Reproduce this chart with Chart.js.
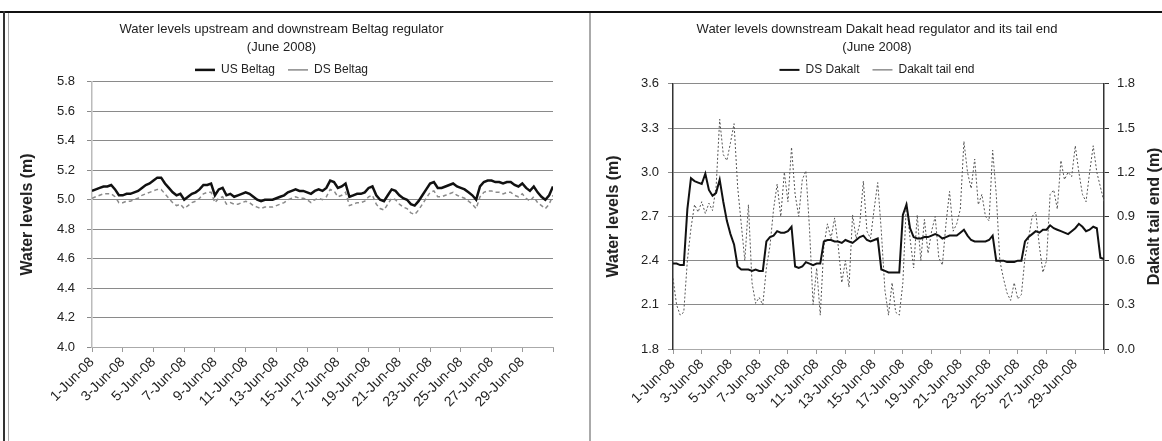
<!DOCTYPE html>
<html>
<head>
<meta charset="utf-8">
<title>Water levels June 2008</title>
<script src="https://cdn.jsdelivr.net/npm/chart.js@4.4.1/dist/chart.umd.min.js"></script>
<style>
  html, body { margin: 0; padding: 0; background: #fff; }
  body { width: 1162px; height: 441px; position: relative; overflow: hidden; }
  canvas { position: absolute; }
  #beltagChart { left: 10px; top: 8px; }
  #dakaltChart { left: 592px; top: 8px; }
  .rule { position: absolute; }
</style>
</head>
<body>
<div class="rule" style="left:0;top:11px;width:1162px;height:2px;background:#111"></div>
<div class="rule" style="left:3px;top:11px;width:2px;height:430px;background:#333"></div>
<div class="rule" style="left:8px;top:13px;width:1px;height:428px;background:#aaa"></div>
<div class="rule" style="left:589px;top:13px;width:2px;height:428px;background:#aaa"></div>
<canvas id="beltagChart" width="578" height="433"></canvas>
<canvas id="dakaltChart" width="570" height="433"></canvas>
<script>
Chart.defaults.font.family = '"Liberation Sans", Arial, sans-serif';
Chart.defaults.color = '#222';

// readings every 6 hours, 1 Jun 00:00 .. 30 Jun 24:00
const stepDays = 0.25;
const dayLabels = ['1-Jun-08', '3-Jun-08', '5-Jun-08', '7-Jun-08', '9-Jun-08', '11-Jun-08', '13-Jun-08',
  '15-Jun-08', '17-Jun-08', '19-Jun-08', '21-Jun-08', '23-Jun-08', '25-Jun-08', '27-Jun-08', '29-Jun-08'];

const usBeltag = [
  5.06, 5.07, 5.08, 5.09, 5.09, 5.10, 5.07, 5.03, 5.03, 5.04, 5.04, 5.05,
  5.06, 5.08, 5.10, 5.11, 5.13, 5.15, 5.15, 5.11, 5.08, 5.05, 5.03, 5.04,
  5.00, 5.02, 5.04, 5.05, 5.07, 5.10, 5.10, 5.11, 5.03, 5.07, 5.08, 5.03,
  5.04, 5.02, 5.03, 5.04, 5.05, 5.04, 5.02, 5.00, 4.99, 5.00, 5.00, 5.00,
  5.01, 5.02, 5.03, 5.05, 5.06, 5.07, 5.06, 5.06, 5.05, 5.04, 5.06, 5.07,
  5.06, 5.08, 5.13, 5.12, 5.08, 5.09, 5.11, 5.02, 5.03, 5.04, 5.04, 5.05,
  5.08, 5.09, 5.03, 5.00, 4.99, 5.03, 5.07, 5.06, 5.03, 5.01, 5.00, 4.97,
  4.96, 4.99, 5.03, 5.07, 5.11, 5.12, 5.08, 5.08, 5.09, 5.10, 5.11, 5.09,
  5.08, 5.07, 5.05, 5.03, 5.00, 5.09, 5.12, 5.13, 5.13, 5.12, 5.12, 5.11,
  5.12, 5.12, 5.10, 5.09, 5.11, 5.08, 5.06, 5.09, 5.05, 5.02, 5.00, 5.03,
  5.09
];
const dsBeltag = [
  5.01, 5.02, 5.03, 5.04, 5.04, 5.04, 5.02, 4.98, 4.98, 4.99, 4.99, 5.00,
  5.01, 5.03, 5.04, 5.05, 5.06, 5.07, 5.07, 5.04, 5.01, 4.98, 4.96, 4.97,
  4.94, 4.96, 4.98, 4.99, 5.01, 5.04, 5.05, 5.05, 4.98, 5.01, 5.02, 4.97,
  4.98, 4.97, 4.97, 4.98, 4.99, 4.98, 4.96, 4.95, 4.94, 4.95, 4.95, 4.95,
  4.96, 4.97, 4.98, 5.00, 5.01, 5.02, 5.01, 5.01, 5.00, 4.98, 5.00, 5.01,
  5.00, 5.02, 5.07, 5.06, 5.02, 5.03, 5.05, 4.96, 4.97, 4.98, 4.98, 4.99,
  5.02, 5.03, 4.97, 4.94, 4.93, 4.97, 5.01, 5.00, 4.97, 4.95, 4.94, 4.91,
  4.90, 4.93, 4.97, 5.01, 5.05, 5.06, 5.02, 5.02, 5.03, 5.04, 5.05, 5.03,
  5.02, 5.01, 4.99, 4.97, 4.94, 5.02, 5.05, 5.06, 5.06, 5.05, 5.05, 5.04,
  5.05, 5.05, 5.03, 5.02, 5.04, 5.01, 4.99, 5.02, 4.98, 4.96, 4.94, 4.97,
  5.03
];
const dsDakalt = [
  2.38, 2.38, 2.37, 2.37, 2.75, 2.96, 2.94, 2.93, 2.92, 2.99, 2.88, 2.84,
  2.86, 2.95, 2.80, 2.67, 2.58, 2.51, 2.36, 2.34, 2.34, 2.34, 2.33, 2.34,
  2.33, 2.33, 2.53, 2.56, 2.57, 2.60, 2.59, 2.59, 2.60, 2.63, 2.36, 2.35,
  2.36, 2.39, 2.38, 2.37, 2.38, 2.38, 2.53, 2.54, 2.54, 2.53, 2.53, 2.52,
  2.54, 2.53, 2.52, 2.54, 2.56, 2.57, 2.54, 2.53, 2.54, 2.55, 2.34, 2.33,
  2.32, 2.32, 2.32, 2.32, 2.71, 2.78, 2.62, 2.56, 2.55, 2.55, 2.56, 2.56,
  2.57, 2.58, 2.57, 2.55, 2.56, 2.57, 2.57, 2.57, 2.59, 2.61, 2.57, 2.54,
  2.53, 2.53, 2.53, 2.53, 2.54, 2.57, 2.40, 2.40, 2.40, 2.39, 2.39, 2.39,
  2.40, 2.40, 2.53, 2.56, 2.58, 2.60, 2.59, 2.61, 2.61, 2.64, 2.62, 2.61,
  2.60, 2.59, 2.58, 2.60, 2.62, 2.65, 2.63, 2.60, 2.61, 2.63, 2.62, 2.42,
  2.41
];
const dakaltTail = [
  0.48, 0.30, 0.23, 0.25, 0.60, 0.82, 0.98, 0.93, 1.00, 0.92, 0.99, 0.94,
  1.10, 1.56, 1.32, 1.28, 1.40, 1.53, 1.10, 0.85, 0.60, 0.98, 0.45, 0.31,
  0.35, 0.30, 0.55, 0.70, 0.95, 1.12, 0.90, 1.20, 1.00, 1.37, 1.05, 0.90,
  1.15, 1.21, 0.82, 0.30, 0.55, 0.23, 0.70, 0.85, 0.75, 0.89, 0.70, 0.45,
  0.60, 0.42, 0.91, 0.75, 0.85, 1.14, 0.80, 0.75, 0.95, 1.13, 0.80, 0.40,
  0.23, 0.45, 0.25, 0.23, 0.45, 1.00, 0.75, 0.55, 0.91, 0.60, 0.88, 0.65,
  0.80, 0.90, 0.62, 0.57, 0.85, 1.07, 0.80, 0.85, 0.95, 1.41, 1.20, 1.09,
  1.29, 0.98, 1.05, 0.90, 0.87, 1.35, 1.05, 0.60, 0.48, 0.38, 0.33, 0.45,
  0.34, 0.37, 0.62, 0.75, 0.90, 0.93, 0.70, 0.52, 0.60, 1.05, 1.08, 0.95,
  1.28, 1.15, 1.20, 1.17, 1.38, 1.20, 1.05, 1.00, 1.20, 1.38, 1.20, 1.10,
  1.00
];

function toPoints(values) {
  return values.map((v, i) => ({ x: i * stepDays, y: v }));
}

// adjust the room between legend and plot, like the Excel original
const legendGap = {
  id: 'legendGap',
  beforeInit(chart, args, opts) {
    const fit = chart.legend.fit;
    chart.legend.fit = function () {
      fit.call(this);
      this.height += opts.extra || 0;
    };
  }
};

// secondary axis title reads bottom-to-top in the original
const rightTitle = {
  id: 'rightTitle',
  afterDraw(chart, args, opts) {
    const s = chart.scales.y1;
    const ctx = chart.ctx;
    ctx.save();
    ctx.translate(opts.x, (s.top + s.bottom) / 2);
    ctx.rotate(-Math.PI / 2);
    ctx.font = 'bold 16px "Liberation Sans", Arial, sans-serif';
    ctx.fillStyle = '#222';
    ctx.textAlign = 'center';
    ctx.textBaseline = 'middle';
    ctx.fillText(opts.text, 0, 0);
    ctx.restore();
  }
};

function dayAxis(height) {
  return {
    type: 'linear',
    min: 0,
    max: 30,
    grid: { drawOnChartArea: false, tickLength: 5, color: '#999' },
    border: { color: '#aaa' },
    ticks: {
      stepSize: 2,
      autoSkip: false,
      maxRotation: 45,
      minRotation: 45,
      padding: 2,
      font: { size: 14 },
      callback: (v, i) => dayLabels[i] || ''
    },
    afterFit: s => { s.height = height; }
  };
}

function titleOpts(text) {
  return {
    display: true,
    text: text,
    color: '#222',
    font: { size: 13, weight: 'normal', lineHeight: 1.45 },
    padding: { top: 11.5, bottom: -6.3 }
  };
}

function legendOpts() {
  return {
    labels: {
      usePointStyle: true,
      pointStyle: 'line',
      pointStyleWidth: 20,
      padding: 13,
      color: '#222',
      font: { size: 12 }
    }
  };
}

function levelAxis(min, max, step, width, titlePad, labelPad, borderColor) {
  return {
    position: 'left',
    min: min,
    max: max,
    ticks: { stepSize: step, padding: labelPad, font: { size: 13 }, callback: v => v.toFixed(1) },
    grid: { color: '#8a8a8a', tickLength: 5 },
    border: { color: borderColor, width: 1.5 },
    title: { display: true, text: 'Water levels (m)', font: { size: 16, weight: 'bold' }, padding: { top: titlePad, bottom: 0 } },
    afterFit: s => { s.width = width; }
  };
}

new Chart(document.getElementById('beltagChart'), {
  type: 'line',
  data: {
    datasets: [
      { label: 'US Beltag', data: toPoints(usBeltag), borderColor: '#111', borderWidth: 2.5 },
      { label: 'DS Beltag', data: toPoints(dsBeltag), borderColor: '#8a8a8a', borderWidth: 1.5, borderDash: [4, 3] }
    ]
  },
  options: {
    responsive: false,
    animation: false,
    elements: { point: { radius: 0 }, line: { tension: 0 } },
    layout: { padding: { right: 35 } },
    plugins: {
      title: titleOpts(['Water levels upstream and downstream Beltag regulator', '(June 2008)']),
      legend: legendOpts(),
      legendGap: { extra: -4 },
      tooltip: { enabled: false }
    },
    scales: {
      x: dayAxis(94),
      y: levelAxis(4, 5.8, 0.2, 82, 8.4, 12, '#bbb')
    }
  },
  plugins: [legendGap]
});

new Chart(document.getElementById('dakaltChart'), {
  type: 'line',
  data: {
    datasets: [
      { label: 'DS Dakalt', data: toPoints(dsDakalt), borderColor: '#111', borderWidth: 2, yAxisID: 'y' },
      { label: 'Dakalt tail end', data: toPoints(dakaltTail), borderColor: '#555', borderWidth: 1, borderDash: [2, 2], yAxisID: 'y1' }
    ]
  },
  options: {
    responsive: false,
    animation: false,
    elements: { point: { radius: 0 }, line: { tension: 0 } },
    plugins: {
      title: titleOpts(['Water levels downstream Dakalt head regulator and its tail end', '(June 2008)']),
      legend: legendOpts(),
      legendGap: { extra: -2 },
      rightTitle: { text: 'Dakalt tail end (m)', x: 563 },
      tooltip: { enabled: false }
    },
    scales: {
      x: dayAxis(92),
      y: levelAxis(1.8, 3.6, 0.3, 81, 12.4, 9, '#333'),
      y1: {
        position: 'right',
        min: 0,
        max: 1.8,
        ticks: { stepSize: 0.3, padding: 8, font: { size: 13 }, callback: v => v.toFixed(1) },
        grid: { drawOnChartArea: false, tickLength: 5, color: '#333' },
        border: { color: '#333', width: 1.5 },
        afterFit: s => { s.width = 58; }
      }
    }
  },
  plugins: [legendGap, rightTitle]
});
</script>
</body>
</html>
